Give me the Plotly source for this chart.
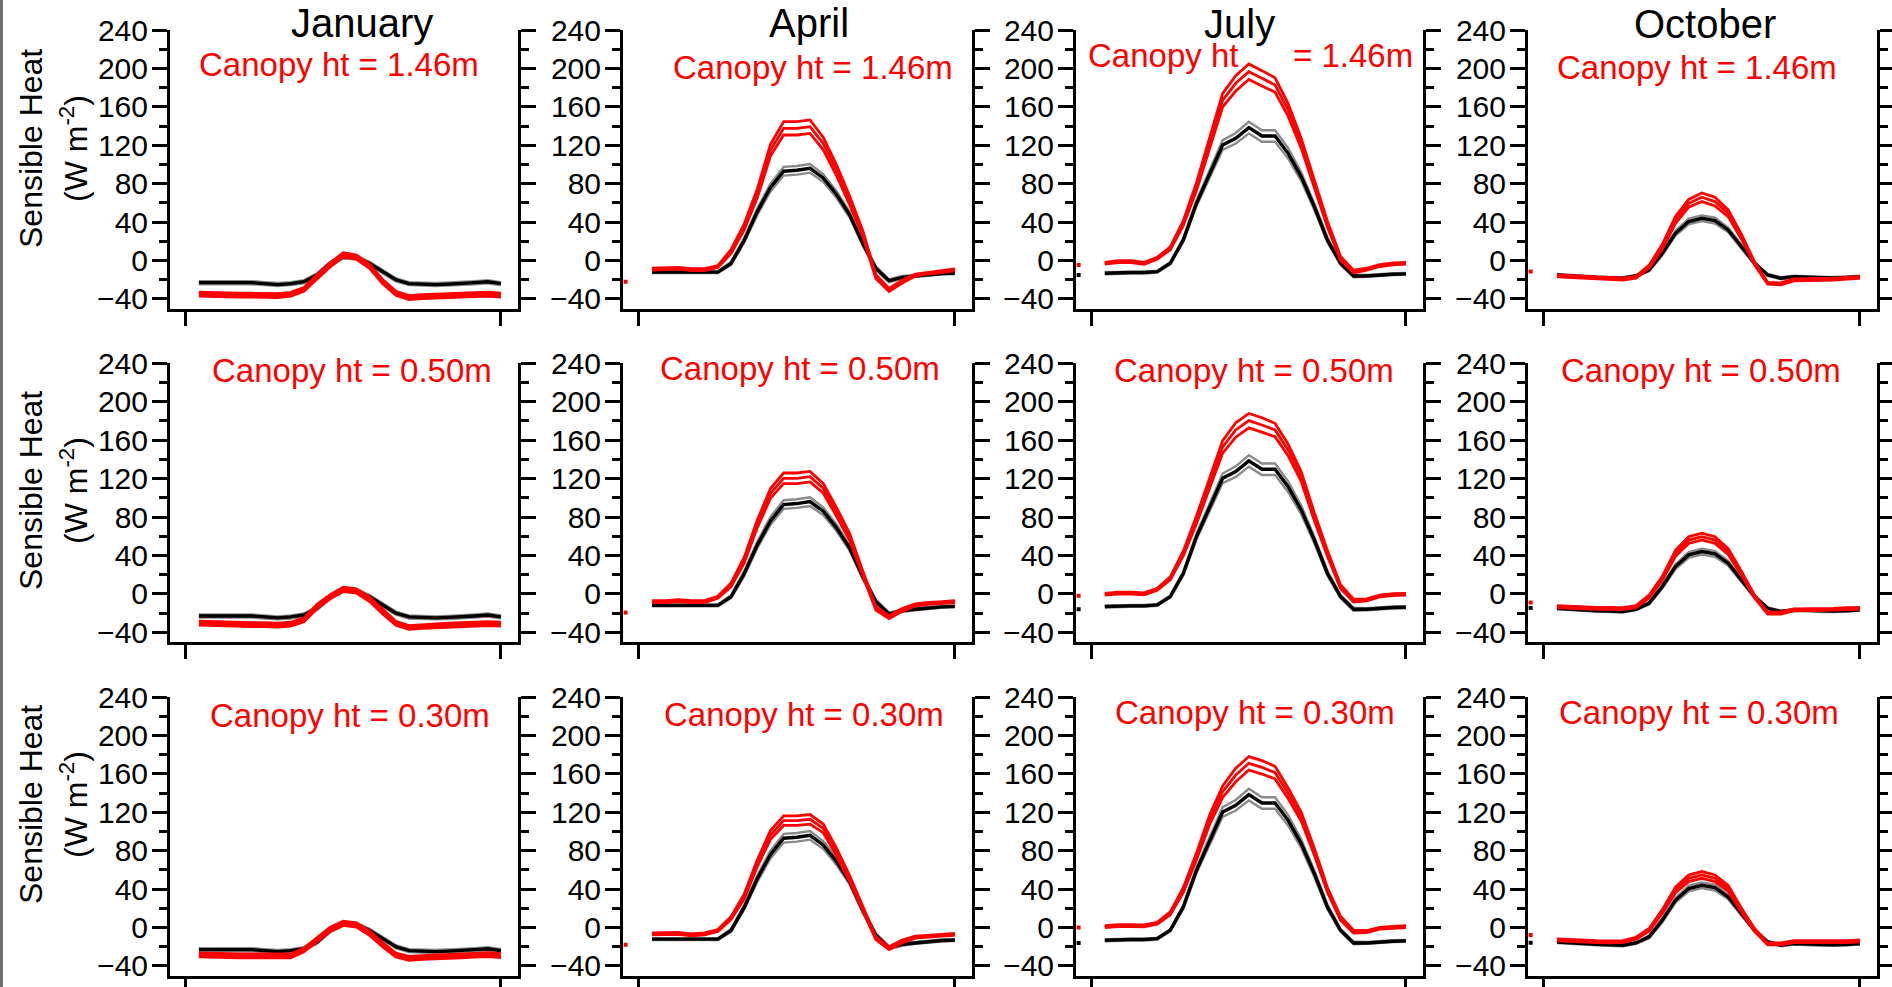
import plotly.graph_objects as go

# ---------------- data ----------------
HOURS = list(range(1, 25))
MONTHS = ["January", "April", "July", "October"]
CANOPY = ["1.46m", "0.50m", "0.30m"]

# observed (black) - same in each row
OBS_JAN = [-23, -23, -23, -22.5, -23, -24, -25, -24, -22, -15, -3, 4, 3, -3, -11.5, -20, -24, -24.5, -25, -24.5, -24, -23, -22, -24]
OBS_APR = [-12, -12, -12, -12, -12.5, -12, -3, 21, 51, 76, 93, 94, 96, 86, 69, 48, 18, -8, -21, -17.5, -16, -14.5, -13.5, -13]
OBS_JUL = [-13.2, -12.5, -12.5, -12.5, -11.5, -2.8, 21.5, 59.6, 90.8, 120.3, 127.3, 138.4, 129.7, 129.7, 111.6, 87.4, 56.2, 21.5, -2.8, -16, -16, -15, -14.2, -13.9]
OBS_OCT = [-15, -16, -17, -17.5, -18, -18.4, -16, -9.7, 7.6, 28.4, 40.6, 44, 41.6, 31.9, 14.6, -2.8, -15, -18.4, -16.7, -17.4, -18, -18, -17.7, -16.7]

OBS_JAN_SE = [1.6, 1.6, 1.6, 1.6, 1.6, 1.6, 1.6, 1.6, 1.6, 1.8, 1.8, 1.8, 1.8, 1.8, 1.8, 1.6, 1.6, 1.6, 1.6, 1.6, 1.6, 1.6, 1.6, 1.6]
OBS_APR_SE = [1, 1, 1, 1, 1, 1, 1.5, 2.5, 3.5, 4, 4.5, 4.5, 4.5, 4, 3.5, 3, 2.5, 2, 1.5, 1.5, 1, 1, 1, 1]
OBS_JUL_SE = [1, 1, 1, 1, 1, 1, 2, 3, 4, 5, 5.5, 6, 6, 6, 5.5, 4.5, 3.5, 2.5, 1.5, 1.5, 1, 1, 1, 1]
OBS_OCT_SE = [1, 1, 1, 1, 1, 1, 1, 1.5, 2, 2.5, 3, 3, 3, 2.5, 2, 1.5, 1, 1, 1, 1, 1, 1, 1, 1]

# modelled (red), one per canopy height
MOD_JAN_146 = [-35, -35.5, -35.5, -36, -36, -36.5, -36.5, -35, -30, -17, -4.5, 6, 3.5, -6, -22, -34, -38.5, -37.5, -37, -36, -35.5, -35, -35, -36]
MOD_JAN_050 = [-30.5, -31, -31, -31.5, -32, -32, -32.5, -31.5, -27, -13, -3, 4.7, 3, -5.7, -18.6, -30.6, -35, -34, -33.5, -32.5, -32, -31.5, -31, -31.5]
MOD_JAN_030 = [-28.5, -29, -29, -29.5, -29.5, -29.5, -30, -29.5, -23.3, -12.9, -1.8, 4.5, 2.7, -5.9, -18, -28.5, -32, -31.2, -30.8, -30, -29.5, -28.8, -28.2, -29.2]
MOD_APR_146 = [-9, -8.5, -8, -9.5, -9.5, -6.3, 9.3, 35, 70, 115, 137.7, 137.7, 139.4, 122, 94.3, 63, 28.4, -16.7, -30.6, -21.9, -15, -13.2, -11.5, -9.7]
MOD_APR_050 = [-8, -8, -7, -8, -8, -3.6, 9.2, 35, 73, 104.6, 120.3, 120.3, 122, 110, 85.6, 59.6, 21.5, -14.9, -24.3, -16.7, -11.5, -9.8, -9.1, -8]
MOD_APR_030 = [-6.6, -6.6, -6, -7.7, -6.6, -3.1, 9.7, 32.2, 67, 96.4, 111.3, 111.3, 112.7, 103.3, 79, 51.3, 20, -11, -21.5, -14.6, -10, -8.7, -8, -7]
MOD_JUL_146 = [-2.8, -1, -1, -2.8, 2.4, 12.8, 39, 77, 122, 167, 184.5, 196.6, 189.7, 182.8, 156.8, 122, 80, 38, 2.4, -11.5, -9, -5.2, -3.5, -2.8]
MOD_JUL_050 = [-0.4, 0.7, 0.7, 0, 4.8, 16.2, 42.2, 77, 115, 153, 170.6, 180.3, 175.8, 170.6, 149.8, 122, 80.4, 42.2, 7.5, -7, -6.3, -2.2, -0.8, -0.4]
MOD_JUL_030 = [1, 2, 2, 1.7, 4.5, 14.9, 39.2, 74, 112, 141.5, 158.8, 171, 166.8, 161.3, 139.8, 115.5, 79.1, 39.2, 9.7, -4.2, -4.2, -0.7, 0.3, 1]
MOD_OCT_146 = [-16, -16.7, -17.7, -18.4, -19.1, -19.4, -17.4, -6.3, 14.5, 42.3, 59.6, 65.9, 61.4, 49.2, 25, -2.8, -23.6, -24.3, -20.1, -20.1, -20, -19.4, -18.4, -17.4]
MOD_OCT_050 = [-13.3, -14, -14.5, -15, -15.2, -15.3, -13.3, -2.8, 16.2, 42.2, 56, 59.6, 56, 44, 21.5, -2.8, -20.1, -20.1, -16.7, -16.7, -16.7, -16, -15.3, -15]
MOD_OCT_030 = [-12.9, -13.6, -14, -14.6, -14.8, -14.6, -11.1, -2.4, 16.7, 39.2, 51.3, 54.8, 51.3, 40.9, 18.3, -2.4, -17, -17, -14.6, -14.6, -14.8, -14.6, -14.6, -13.9]

MOD_JAN_SE = [2, 2, 2, 2, 2, 2, 2, 2, 2, 2.2, 2.2, 2.2, 2.2, 2.2, 2.2, 2, 2, 2, 2, 2, 2, 2, 2, 2]
MOD_APR_146_SE = [1, 1, 1, 1, 1, 1, 2, 3, 4.5, 6, 7, 7, 7, 6.5, 5.5, 4.5, 3, 2, 1.5, 1.5, 1, 1, 1, 1]
MOD_APR_050_SE = [1, 1, 1, 1, 1, 1, 2, 3, 4, 5, 5.5, 5.5, 5.5, 5, 4.5, 3.5, 2.5, 2, 1.5, 1.5, 1, 1, 1, 1]
MOD_APR_030_SE = [1, 1, 1, 1, 1, 1, 1.5, 2.5, 3.5, 4.5, 5, 5, 5, 4.5, 4, 3, 2.5, 1.5, 1.5, 1.5, 1, 1, 1, 1]
MOD_JUL_146_SE = [1, 1, 1, 1, 1, 1.5, 2.5, 4, 5.5, 7, 8, 8, 8, 7.5, 6.5, 5, 4, 3, 2, 1.5, 1, 1, 1, 1]
MOD_JUL_050_SE = [1, 1, 1, 1, 1, 1.5, 2.5, 4, 5, 6.5, 7.5, 7.5, 7.5, 7, 6, 5, 4, 3, 2, 1.5, 1, 1, 1, 1]
MOD_JUL_030_SE = [1, 1, 1, 1, 1, 1.5, 2.5, 3.5, 5, 6, 7, 7, 7, 6.5, 5.5, 4.5, 3.5, 2.5, 2, 1.5, 1, 1, 1, 1]
MOD_OCT_146_SE = [1, 1, 1, 1, 1, 1, 1, 1.5, 2.5, 3.5, 4, 4.5, 4.5, 3.5, 2.5, 1.5, 1, 1, 1, 1, 1, 1, 1, 1]
MOD_OCT_050_SE = [1, 1, 1, 1, 1, 1, 1, 1.5, 2, 3, 3.5, 3.5, 3.5, 3, 2, 1.5, 1, 1, 1, 1, 1, 1, 1, 1]
MOD_OCT_030_SE = [1, 1, 1, 1, 1, 1, 1, 1.5, 2, 3, 3.5, 3.5, 3.5, 3, 2, 1.5, 1, 1, 1, 1, 1, 1, 1, 1]

# isolated points at the left edge (hour -1), None = not shown
STRAY_X = -1
STRAY_MOD = [[None, -22, -4.5, -11.5], [None, -19.5, -2, -9], [None, -18, 0, -7.7]]
STRAY_OBS = [[None, None, -15, None], [None, None, -16, -14.6], [None, None, -16, -15.7]]

OBS = [OBS_JAN, OBS_APR, OBS_JUL, OBS_OCT]
OBS_SE = [OBS_JAN_SE, OBS_APR_SE, OBS_JUL_SE, OBS_OCT_SE]
MOD = [[MOD_JAN_146, MOD_APR_146, MOD_JUL_146, MOD_OCT_146],
       [MOD_JAN_050, MOD_APR_050, MOD_JUL_050, MOD_OCT_050],
       [MOD_JAN_030, MOD_APR_030, MOD_JUL_030, MOD_OCT_030]]
MOD_SE = [[MOD_JAN_SE, MOD_APR_146_SE, MOD_JUL_146_SE, MOD_OCT_146_SE],
          [MOD_JAN_SE, MOD_APR_050_SE, MOD_JUL_050_SE, MOD_OCT_050_SE],
          [MOD_JAN_SE, MOD_APR_030_SE, MOD_JUL_030_SE, MOD_OCT_030_SE]]

# ---------------- layout geometry (pixels) ----------------
W, H = 1892, 987
COLS_PX = [(170, 518), (623, 972), (1076, 1423), (1528, 1877)]
ROWS_PX = [(30, 308.6), (363.3, 641.9), (697, 975.6)]
FONT = "Liberation Sans, Arial, sans-serif"
RED = "#ff0000"
GRAY = "#8a8a8a"

def px(x):
    return x / W

def py(y):
    return 1 - y / H

fig = go.Figure()
layout = dict(
    width=W, height=H, autosize=False, margin=dict(l=0, r=0, t=0, b=0, pad=0, autoexpand=False),
    paper_bgcolor="white", plot_bgcolor="white", showlegend=False,
    font=dict(family=FONT, color="black"),
)

annotations = []
k = 0
for r in range(3):
    for c in range(4):
        k += 1
        xa = "x" if k == 1 else f"x{k}"
        ya = "y" if k == 1 else f"y{k}"
        xkey = "xaxis" if k == 1 else f"xaxis{k}"
        ykey = "yaxis" if k == 1 else f"yaxis{k}"
        x0, x1 = COLS_PX[c]
        y0, y1 = ROWS_PX[r]
        layout[xkey] = dict(
            domain=[px(x0), px(x1)], anchor=ya, range=[-1.2, 25.3], automargin=False,
            showline=True, linewidth=3, linecolor="black", mirror=False,
            ticks="outside", tickvals=[0, 24], ticklen=14, tickwidth=3, tickcolor="black",
            showticklabels=False, showgrid=False, zeroline=False, fixedrange=True,
        )
        layout[ykey] = dict(
            domain=[py(y1), py(y0)], anchor=xa, range=[-50, 240], automargin=False,
            showline=True, linewidth=3, linecolor="black", mirror="ticks",
            ticks="outside", tickmode="linear", tick0=0, dtick=40,
            ticklen=15, tickwidth=3, tickcolor="black",
            minor=dict(ticks="outside", tickmode="linear", tick0=0, dtick=20,
                       ticklen=8, tickwidth=3, tickcolor="black"),
            tickfont=dict(size=30, family=FONT, color="black"),
            ticklabelstandoff=-2,
            showgrid=False, zeroline=False, fixedrange=True,
        )

        obs, ose = OBS[c], OBS_SE[c]
        mod, mse = MOD[r][c], MOD_SE[r][c]
        obs_lo = [v - s for v, s in zip(obs, ose)]
        obs_hi = [v + s for v, s in zip(obs, ose)]
        mod_lo = [v - s for v, s in zip(mod, mse)]
        mod_hi = [v + s for v, s in zip(mod, mse)]

        for yy in (obs_lo, obs_hi):
            fig.add_trace(go.Scatter(x=HOURS, y=yy, mode="lines", xaxis=xa, yaxis=ya,
                                     line=dict(color=GRAY, width=2.4), hoverinfo="skip"))
        fig.add_trace(go.Scatter(x=HOURS, y=obs, mode="lines", xaxis=xa, yaxis=ya,
                                 line=dict(color="black", width=3.4), hoverinfo="skip"))
        for yy in (mod_lo, mod_hi, mod):
            fig.add_trace(go.Scatter(x=HOURS, y=yy, mode="lines", xaxis=xa, yaxis=ya,
                                     line=dict(color=RED, width=2.8), hoverinfo="skip"))
        if STRAY_OBS[r][c] is not None:
            fig.add_trace(go.Scatter(x=[STRAY_X], y=[STRAY_OBS[r][c]], mode="markers",
                                     xaxis=xa, yaxis=ya, hoverinfo="skip",
                                     marker=dict(color="black", size=4, symbol="square")))
        if STRAY_MOD[r][c] is not None:
            fig.add_trace(go.Scatter(x=[STRAY_X], y=[STRAY_MOD[r][c]], mode="markers",
                                     xaxis=xa, yaxis=ya, hoverinfo="skip",
                                     marker=dict(color=RED, size=4, symbol="square")))

# month titles
TITLE_POS = [(362, 23), (809, 23), (1239, 24), (1705, 24)]
for m, (tx, ty) in zip(MONTHS, TITLE_POS):
    annotations.append(dict(text=m, x=px(tx), y=py(ty), xref="paper", yref="paper",
                            xanchor="center", yanchor="middle", showarrow=False,
                            font=dict(size=40, family=FONT, color="black")))

# canopy labels
CANOPY_POS = [[(339, 64), (813, 68), None, (1697, 68)],
              [(352, 370), (800, 368), (1254, 370), (1701, 370)],
              [(350, 715), (804, 714), (1255, 712), (1699, 712)]]
for r in range(3):
    for c in range(4):
        pos = CANOPY_POS[r][c]
        if pos is None:
            continue
        annotations.append(dict(text=f"Canopy ht = {CANOPY[r]}", x=px(pos[0]), y=py(pos[1]),
                                xref="paper", yref="paper", xanchor="center", yanchor="middle",
                                showarrow=False, font=dict(size=33, family=FONT, color=RED)))
# July top row label is split around the month title
annotations.append(dict(text="Canopy ht", x=px(1163), y=py(56), xref="paper", yref="paper",
                        xanchor="center", yanchor="middle", showarrow=False,
                        font=dict(size=33, family=FONT, color=RED)))
annotations.append(dict(text=f"= {CANOPY[0]}", x=px(1353), y=py(56), xref="paper", yref="paper",
                        xanchor="center", yanchor="middle", showarrow=False,
                        font=dict(size=33, family=FONT, color=RED)))

# y-axis titles
YT_CENTERS = [149, 491, 805]
for yc in YT_CENTERS:
    annotations.append(dict(text="Sensible Heat", x=px(31), y=py(yc), xref="paper", yref="paper",
                            xanchor="center", yanchor="middle", textangle=-90, showarrow=False,
                            font=dict(size=32, family=FONT, color="black")))
    annotations.append(dict(text="(W m<sup>-2</sup>)", x=px(74), y=py(yc), xref="paper", yref="paper",
                            xanchor="center", yanchor="middle", textangle=-90, showarrow=False,
                            font=dict(size=32, family=FONT, color="black")))

layout["annotations"] = annotations
layout["shapes"] = [dict(type="rect", xref="paper", yref="paper", x0=0, x1=px(3), y0=0, y1=1,
                         fillcolor="#707070", line=dict(width=0), layer="above")]
fig.update_layout(**layout)
fig.write_html("out.html")
